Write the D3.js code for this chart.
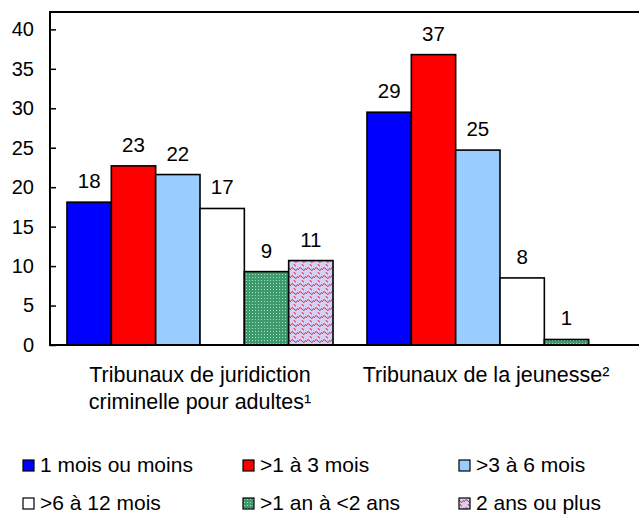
<!DOCTYPE html>
<html>
<head>
<meta charset="utf-8">
<script src="https://cdn.jsdelivr.net/npm/d3@7"></script>
<style>
  html, body { margin: 0; padding: 0; background: #fff; }
  svg { display: block; }
  text { font-family: "Liberation Sans", Arial, Helvetica, sans-serif; fill: #000; }
</style>
</head>
<body>
<svg id="chart" width="639" height="515"></svg>
<script>
const categories = ["adults", "youth"];
const categoryLabels = [
  ["Tribunaux de juridiction", "criminelle pour adultes\u00b9"],
  ["Tribunaux de la jeunesse\u00b2"]
];
const seriesNames = ["1 mois ou moins", ">1 à 3 mois", ">3 à 6 mois", ">6 à 12 mois", ">1 an à <2 ans", "2 ans ou plus"];
const adultsValues = [18.1, 22.7, 21.6, 17.3, 9.3, 10.7];
const youthValues = [29.5, 36.8, 24.7, 8.5, 0.7, null];
const adultsLabels = ["18", "23", "22", "17", "9", "11"];
const youthLabels = ["29", "37", "25", "8", "1", ""];
const yTicks = [0, 5, 10, 15, 20, 25, 30, 35, 40];

const values = [adultsValues, youthValues];
const valueLabels = [adultsLabels, youthLabels];
const fills = ["#0000ff", "#ff0000", "#99ccff", "#ffffff", "url(#pGreen)", "url(#pPink)"];

const svg = d3.select("#chart");
const defs = svg.append("defs");

// green dotted pattern
const pg = defs.append("pattern").attr("id", "pGreen").attr("patternUnits", "userSpaceOnUse")
  .attr("width", 3).attr("height", 3);
pg.append("rect").attr("width", 3).attr("height", 3).attr("fill", "#3c9a6c");
pg.append("rect").attr("x", 1).attr("y", 1).attr("width", 1).attr("height", 1).attr("fill", "#a8dcc0");

// lavender pattern with red curls
const pp = defs.append("pattern").attr("id", "pPink").attr("patternUnits", "userSpaceOnUse")
  .attr("width", 8).attr("height", 8);
pp.append("rect").attr("width", 8).attr("height", 8).attr("fill", "#d2d2f6");
pp.append("path").attr("d", "M0,6 Q2,2 4,5 Q6,8 8,4 M4,0 Q4.5,2 6,2")
  .attr("fill", "none").attr("stroke", "#f02030").attr("stroke-width", 1);

const plotLeft = 50, plotRight = 650, plotTop = 12, plotBottom = 345;

const y = d3.scaleLinear().domain([0, 42.2]).range([plotBottom, plotTop]);
const x0 = d3.scaleBand().domain(categories).range([plotLeft, plotRight]).padding(0);
const x1 = d3.scaleBand().domain(seriesNames).range([0, x0.bandwidth()]).paddingInner(0).paddingOuter(0.383);

// bars
categories.forEach((c, ci) => {
  const g = svg.append("g").attr("transform", `translate(${x0(c)},0)`);
  seriesNames.forEach((s, si) => {
    const v = values[ci][si];
    if (v == null) return;
    g.append("rect")
      .attr("x", x1(s))
      .attr("y", y(v))
      .attr("width", x1.bandwidth())
      .attr("height", y(0) - y(v))
      .attr("fill", fills[si])
      .attr("stroke", "#000")
      .attr("stroke-width", 1.6);
    const lbl = valueLabels[ci][si];
    if (lbl) {
      g.append("text")
        .attr("x", x1(s) + x1.bandwidth() / 2)
        .attr("y", y(v) - 14)
        .attr("text-anchor", "middle")
        .attr("font-size", 20.5)
        .text(lbl);
    }
  });
});

// frame
svg.append("path")
  .attr("d", `M${plotRight},${plotTop}H${plotLeft}V${plotBottom}H${plotRight}`)
  .attr("fill", "none").attr("stroke", "#000").attr("stroke-width", 2);

// y axis
const yAxis = svg.append("g").attr("transform", `translate(${plotLeft},0)`)
  .call(d3.axisLeft(y).tickValues(yTicks).tickSize(-6).tickPadding(16).tickFormat(d3.format("d")));
yAxis.select(".domain").remove();
yAxis.selectAll(".tick line").attr("stroke", "#000").attr("stroke-width", 1.5);
yAxis.selectAll(".tick text").attr("font-size", 20).attr("font-family", "Liberation Sans, Arial, sans-serif").attr("fill", "#000");

// category labels
const catDx = [0, -14];
categories.forEach((c, ci) => {
  const t = svg.append("text")
    .attr("x", x0(c) + x0.bandwidth() / 2 + catDx[ci])
    .attr("y", 382)
    .attr("text-anchor", "middle")
    .attr("font-size", 21.5);
  categoryLabels[ci].forEach((line, li) => {
    t.append("tspan")
      .attr("x", x0(c) + x0.bandwidth() / 2 + catDx[ci])
      .attr("dy", li === 0 ? 0 : 27)
      .text(line);
  });
});

// legend
const legendCols = [23, 243, 459];
const legendRows = [472, 510];
seriesNames.forEach((s, i) => {
  const cx = legendCols[i % 3], ry = legendRows[Math.floor(i / 3)];
  svg.append("rect")
    .attr("x", cx).attr("y", ry - 12).attr("width", 11).attr("height", 11)
    .attr("fill", fills[i]).attr("stroke", "#000").attr("stroke-width", 1.2);
  svg.append("text")
    .attr("x", cx + 17).attr("y", ry)
    .attr("font-size", 21)
    .text(s);
});
</script>
</body>
</html>
